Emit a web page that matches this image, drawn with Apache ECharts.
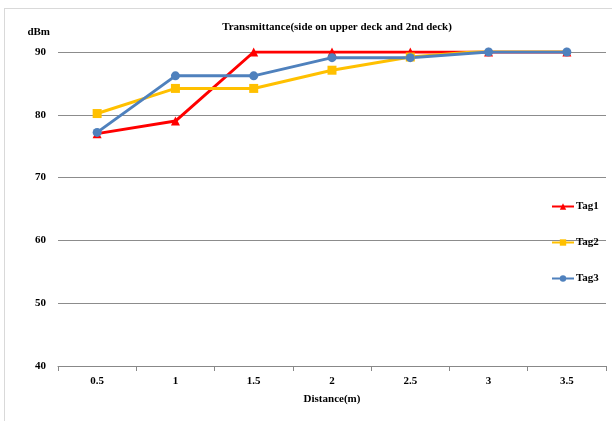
<!DOCTYPE html>
<html>
<head>
<meta charset="UTF-8">
<script src="https://cdn.jsdelivr.net/npm/echarts@6/dist/echarts.min.js"></script>
<style>
  body{margin:0;background:#fff;}
  #frame{position:absolute;left:4px;top:8px;width:620px;height:420px;border:1px solid #d9d9d9;}
  #main{position:absolute;left:0;top:0;width:612px;height:421px;}
</style>
</head>
<body>
<div id="frame"></div>
<div id="main"></div>
<script>
var categories = ['0.5','1','1.5','2','2.5','3','3.5'];
var tag1 = [77, 79, 90, 90, 90, 90, 90];
var tag2 = [80.2, 84.2, 84.2, 87.1, 89.2, 90.2, 90.2];
var tag3 = [77.2, 86.2, 86.2, 89.1, 89.1, 90, 90];

var font = 'Liberation Serif';
var chart = echarts.init(document.getElementById('main'));
function line(name, data, color, symbol, size){
    return {name:name, type:'line', data:data, symbol:symbol, symbolSize:size,
        showAllSymbol:true, lineStyle:{color:color,width:3}, itemStyle:{color:color}};
}
chart.setOption({
    animation:false,
    textStyle:{fontFamily:font},
    title:{text:'Transmittance(side on upper deck and 2nd deck)', left:332, top:17, textAlign:'center',
        textStyle:{fontFamily:font,fontSize:11,fontWeight:'bold',color:'#000'}},
    grid:{left:58, right:6, top:52, bottom:55},
    legend:{orient:'vertical', left:546, top:196, itemGap:25, itemWidth:22, itemHeight:8,
        textStyle:{fontFamily:font,fontSize:11,fontWeight:'bold',color:'#000',padding:[0,0,0,-3]},
        data:['Tag1','Tag2','Tag3']},
    xAxis:{type:'category', data:categories, boundaryGap:true,
        name:'Distance(m)', nameLocation:'middle', nameGap:28,
        nameTextStyle:{fontFamily:font,fontSize:11,fontWeight:'bold',color:'#000'},
        axisLine:{lineStyle:{color:'#888'}}, axisTick:{show:true,lineStyle:{color:'#888'}},
        axisLabel:{fontFamily:font,fontSize:11,fontWeight:'bold',color:'#000',margin:10}},
    yAxis:{type:'value', min:40, max:90, interval:10,
        name:'dBm', nameGap:14, nameLocation:'end',
        nameTextStyle:{fontFamily:font,fontSize:11,fontWeight:'bold',color:'#000',align:'right',padding:[0,8,0,0]},
        axisLine:{show:false}, axisTick:{show:false},
        splitLine:{lineStyle:{color:'#8c8c8c'}},
        axisLabel:{fontFamily:font,fontSize:11,fontWeight:'bold',color:'#000',margin:12}},
    series:[
        line('Tag1', tag1, '#ff0000', 'triangle', 9),
        line('Tag2', tag2, '#ffc000', 'rect', 9),
        line('Tag3', tag3, '#4f81bd', 'circle', 9)
    ]
});
</script>
</body>
</html>
